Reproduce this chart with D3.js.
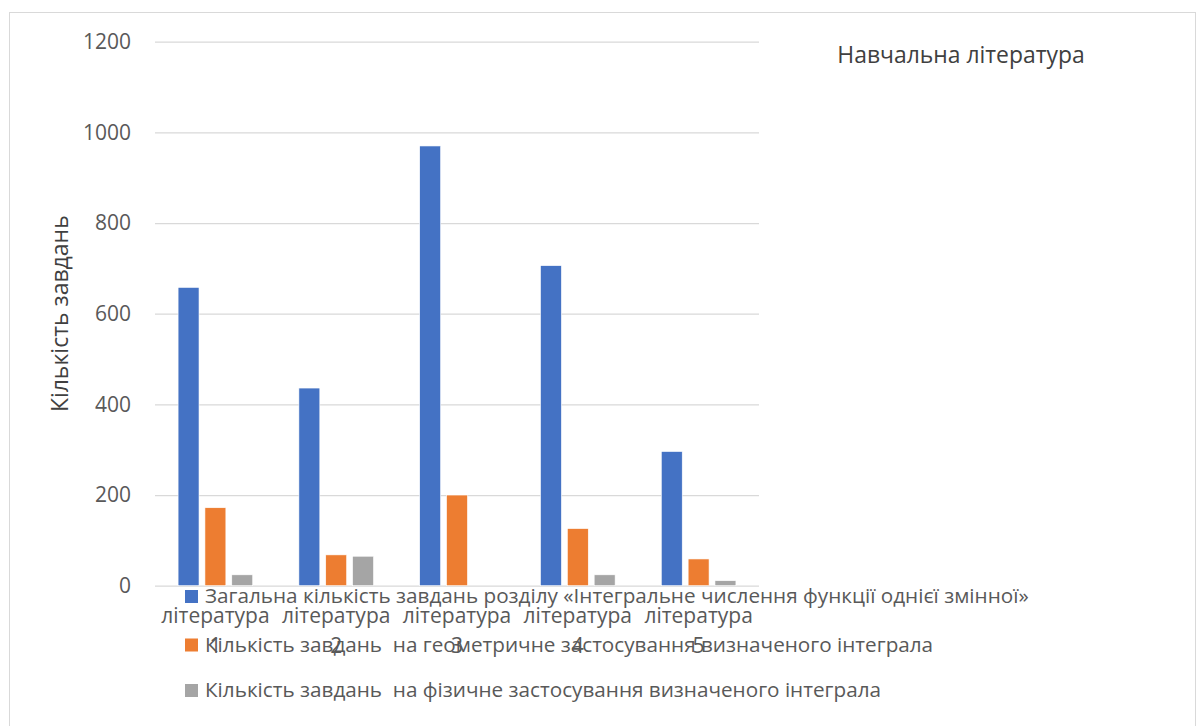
<!DOCTYPE html>
<html>
<head>
<meta charset="utf-8">
<script src="https://cdn.jsdelivr.net/npm/d3@7"></script>
<style>
  body { margin: 0; background: #fff; }
  text { font-family: "Open Sans", "Noto Sans", sans-serif; }
</style>
</head>
<body>
<div id="chart"></div>
<script>
// literature sources and task counts per source
const categories = ["література 1", "література 2", "література 3", "література 4", "література 5"];
const seriesNames = [
    "Загальна кількість завдань розділу «Інтегральне числення функції однієї змінної»",
    "Кількість завдань  на геометричне застосування визначеного інтеграла",
    "Кількість завдань  на фізичне застосування визначеного інтеграла"
];
const totalTasks = [658, 436, 970, 706, 296];
const geometricTasks = [172, 68, 200, 126, 59];
const physicalTasks = [24, 65, 0, 24, 11];
const yTicks = [0, 200, 400, 600, 800, 1000, 1200];
const colors = ["#4472C4", "#ED7D31", "#A5A5A5"];

const width = 1200, height = 726;
const plot = { left: 155, right: 759, top: 41.7, bottom: 585.7 };

const series = [totalTasks, geometricTasks, physicalTasks];
const rows = categories.map((c, i) => ({ cat: c, values: series.map((s, k) => ({ k: k, v: s[i] })) }));

const svg = d3.select("#chart").append("svg")
    .attr("width", width)
    .attr("height", height);

// outer frame
svg.append("rect")
    .attr("x", 9.5).attr("y", 12.5)
    .attr("width", 1186).attr("height", 730)
    .attr("fill", "none")
    .attr("stroke", "#d9d9d9")
    .attr("stroke-width", 1);

const y = d3.scaleLinear().domain([0, 1200]).range([plot.bottom, plot.top]);
const x0 = d3.scaleBand().domain(categories).range([plot.left, plot.right]);
const x1 = d3.scaleBand().domain(d3.range(3))
    .range([0, x0.bandwidth()])
    .paddingInner(0.22)
    .paddingOuter(0.86);

const yAxis = svg.append("g")
    .attr("transform", `translate(${plot.left},0)`)
    .call(d3.axisLeft(y).tickValues(yTicks).tickFormat(d3.format("d"))
        .tickSize(-(plot.right - plot.left)).tickPadding(24));

yAxis.select(".domain").remove();
yAxis.selectAll(".tick line")
    .attr("stroke", "#d9d9d9")
    .attr("stroke-width", 1.3);
yAxis.selectAll(".tick text")
    .attr("fill", "#595959")
    .style("font-size", "21px");

// bars
svg.append("g").selectAll("g")
    .data(rows)
    .join("g")
    .attr("transform", d => `translate(${x0(d.cat)},0)`)
    .selectAll("rect")
    .data(d => d.values)
    .join("rect")
    .attr("x", d => x1(d.k))
    .attr("width", x1.bandwidth())
    .attr("y", d => y(d.v))
    .attr("height", d => y(0) - y(d.v))
    .attr("fill", d => colors[d.k])
    .attr("stroke", "#fff")
    .attr("stroke-width", 0.6);

// category labels (two lines)
svg.append("g").selectAll("text")
    .data(categories)
    .join("text")
    .attr("x", d => x0(d) + x0.bandwidth() / 2)
    .attr("y", 623.3)
    .attr("text-anchor", "middle")
    .attr("fill", "#595959")
    .style("font-size", "21px")
    .each(function (d) {
        const parts = d.split(" ");
        const t = d3.select(this);
        parts.forEach((p, i) => {
            t.append("tspan")
                .attr("x", t.attr("x"))
                .attr("dy", i === 0 ? 0 : 29.7)
                .text(p);
        });
    });

// legend
const legendY = [603, 651.5, 697];
const legend = svg.append("g").selectAll("g")
    .data(seriesNames)
    .join("g")
    .attr("transform", (d, i) => `translate(185,${legendY[i]})`);

legend.append("rect")
    .attr("x", 0).attr("y", -13)
    .attr("width", 13).attr("height", 13)
    .attr("fill", (d, i) => colors[i]);

legend.append("text")
    .attr("x", 20)
    .attr("y", 0)
    .attr("fill", "#595959")
    .style("font-size", "20.7px")
    .style("white-space", "pre")
    .attr("xml:space", "preserve")
    .text(d => d);

// chart title
svg.append("text")
    .attr("x", 961)
    .attr("y", 62.7)
    .attr("text-anchor", "middle")
    .attr("fill", "#404040")
    .style("font-size", "22.9px")
    .text("Навчальна література");

// y axis title
svg.append("text")
    .attr("transform", `translate(68,${(plot.top + plot.bottom) / 2}) rotate(-90)`)
    .attr("text-anchor", "middle")
    .attr("fill", "#404040")
    .style("font-size", "23px")
    .text("Кількість завдань");
</script>
</body>
</html>
